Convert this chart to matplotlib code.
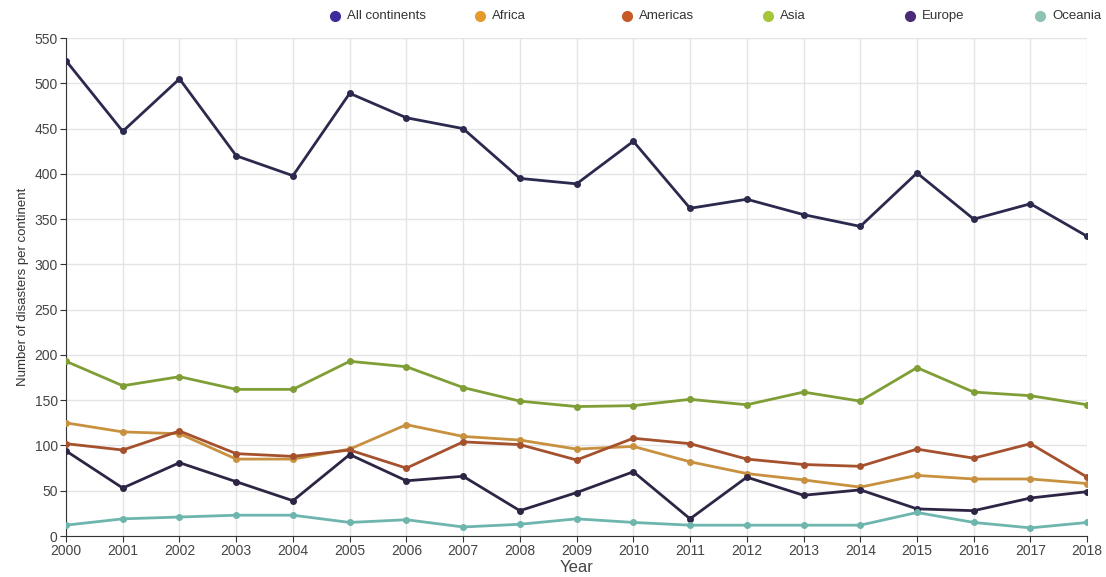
import numpy as np
import matplotlib
matplotlib.use("Agg")
import matplotlib.pyplot as plt
from matplotlib.lines import Line2D

plt.rcParams['font.family'] = ['Liberation Sans', 'DejaVu Sans']

years = list(range(2000, 2019))

all_continents = [525, 447, 505, 420, 398, 489, 462, 450, 395, 389, 436,
                  362, 372, 355, 342, 401, 350, 367, 331]
africa = [125, 115, 113, 85, 85, 96, 123, 110, 106, 96, 99,
          82, 69, 62, 54, 67, 63, 63, 58]
americas = [102, 95, 116, 91, 88, 95, 75, 104, 101, 84, 108,
            102, 85, 79, 77, 96, 86, 102, 65]
asia = [193, 166, 176, 162, 162, 193, 187, 164, 149, 143, 144,
        151, 145, 159, 149, 186, 159, 155, 145]
europe = [94, 53, 81, 60, 39, 90, 61, 66, 28, 48, 71,
          19, 65, 45, 51, 30, 28, 42, 49]
oceania = [12, 19, 21, 23, 23, 15, 18, 10, 13, 19, 15,
           12, 12, 12, 12, 26, 15, 9, 15]

names = ["All continents", "Africa", "Americas", "Asia", "Europe", "Oceania"]
series = [all_continents, africa, americas, asia, europe, oceania]
line_colors = ["#2b2a4e", "#c8913f", "#a5512e", "#7f9e36", "#2e2545", "#6db5ad"]
dot_colors = ["#3a2c9c", "#e49b2c", "#c65a28", "#a6c63a", "#4b2a78", "#8dc2b4"]

fig = plt.figure(figsize=(11.06, 5.77), dpi=100)
ax = fig.add_axes([0.0597, 0.071, 0.9233, 0.863])

for vals, col in zip(series, line_colors):
    ax.plot(years, vals, color=col, lw=2, marker='o', ms=4, zorder=3)

ax.set_xlim(2000, 2018)
ax.set_ylim(0, 550)
ax.set_xticks(years)
ax.set_yticks(range(0, 551, 50))
ax.grid(True, color="#e4e4e4", lw=1)
ax.set_axisbelow(True)
for s in ["top", "right"]:
    ax.spines[s].set_visible(False)
for s in ["left", "bottom"]:
    ax.spines[s].set_color("#333333")
ax.tick_params(colors="#333333", labelcolor="#444444", labelsize=10, length=4, pad=2)
ax.set_ylabel("Number of disasters per continent", fontsize=9.5, color="#333333")
ax.yaxis.set_label_coords(-0.036, 0.5)
ax.set_xlabel("Year", fontsize=12, color="#444444", labelpad=1)

# legend along the top (last one nudged left so it stays inside)
leg_x = [335, 480, 627, 768, 910, 1040]
for x, name, col in zip(leg_x, names, dot_colors):
    fig.add_artist(Line2D([x / 1106], [1 - 16 / 577], marker='o', ms=7,
                          color=col, transform=fig.transFigure))
    fig.text((x + 12) / 1106, 1 - 16 / 577, name, fontsize=9.5,
             color="#333333", va='center', ha='left')

fig.savefig("out.png", dpi=100)
